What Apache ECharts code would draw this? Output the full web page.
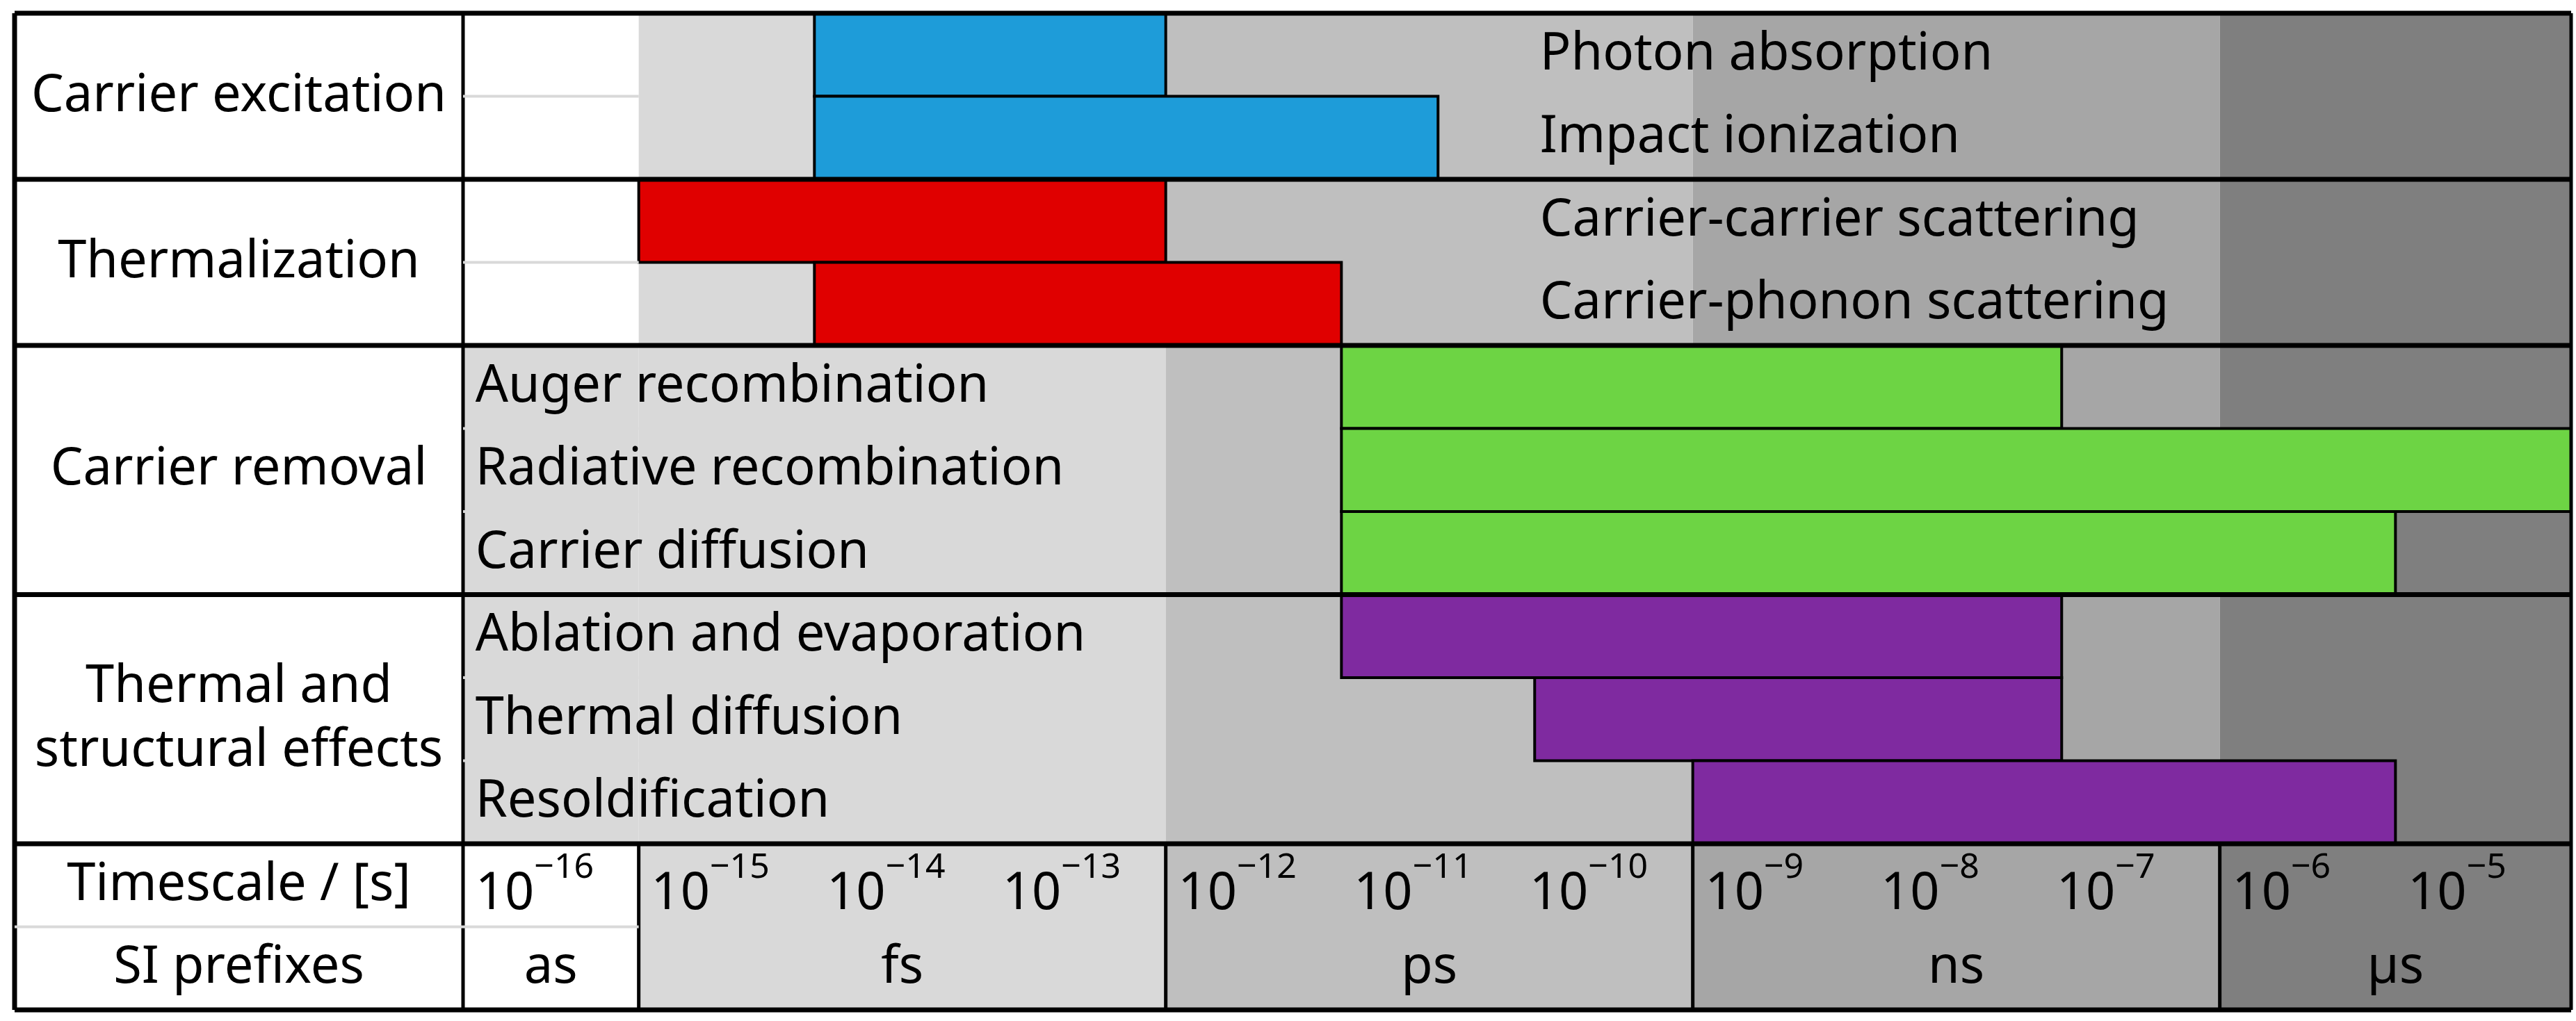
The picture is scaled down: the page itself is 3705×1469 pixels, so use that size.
<!DOCTYPE html>
<html><head><meta charset="utf-8">
<script src="https://cdn.jsdelivr.net/npm/echarts@6/dist/echarts.min.js"></script>
<style>html,body{margin:0;padding:0;background:#fff}#c{width:3705px;height:1469px}</style>
</head><body><div id="c"></div>
<script>
const rowNames=['Photon absorption','Impact ionization','Carrier-carrier scattering','Carrier-phonon scattering','Auger recombination','Radiative recombination','Carrier diffusion','Ablation and evaporation','Thermal diffusion','Resoldification'];
const barStart=[-14,-14,-15,-14,-11,-11,-11,-11,-9.9,-9];
const barEnd=[-12,-10.45,-12,-11,-6.9,-4,-5,-6.9,-6.9,-5];
const barGroup=[0,0,1,1,2,2,2,3,3,3];
const groupNames=['Carrier excitation','Thermalization','Carrier removal','Thermal and\nstructural effects','Timescale / [s]','SI prefixes'];
const groupRows=[[0,2],[2,4],[4,7],[7,10],[10,11],[11,12]];
const groupColors=['#1e9cd9','#e00000','#6dd444','#7f2aa0'];
const tickExps=[-16,-15,-14,-13,-12,-11,-10,-9,-8,-7,-6,-5];
const prefixes=['as','fs','ps','ns','µs'];
const prefixBounds=[-16,-15,-12,-9,-6,-4];
const prefixColors=['#ffffff','#d9d9d9','#bfbfbf','#a6a6a6','#7f7f7f'];

const FONT='"Liberation Sans Narrow","Noto Sans",sans-serif';
const FS=74;
const LEFT_PX=21;
const chart=echarts.init(document.getElementById('c'));

// backgrounds
const bg=[];
prefixes.forEach((p,k)=>{
  if(k===0){
    bg.push({value:[prefixBounds[0],prefixBounds[1],0,4],c:'#ffffff'});
    bg.push({value:[prefixBounds[0],prefixBounds[1],4,10],c:'#d9d9d9'});
    bg.push({value:[prefixBounds[0],prefixBounds[1],10,12],c:'#ffffff'});
  } else bg.push({value:[prefixBounds[k],prefixBounds[k+1],0,12],c:prefixColors[k]});
});
function rectItem(params,api){
  const a=api.coord([api.value(0),api.value(2)]), b=api.coord([api.value(1),api.value(3)]);
  return {x:a[0],y:a[1],w:b[0]-a[0],h:b[1]-a[1]};
}
// lines: [x0,y0,x1,y1,kind] kind: 0 thick black,1 black,2 light ; x0 null => left border
const lines=[];
[0,2,4,7,10,12].forEach(y=>lines.push({value:[null,y,-4,y],k:0}));
lines.push({value:[null,0,null,12],k:0});
lines.push({value:[-16,0,-16,12],k:1});
lines.push({value:[-4,0,-4,12],k:1});
prefixBounds.slice(1,5).forEach(x=>lines.push({value:[x,10,x,12],k:1}));
[1,3,5,6,8,9].forEach(y=>lines.push({value:[-16,y,-15,y],k:2}));
lines.push({value:[null,11,-15,11],k:2});

// text items
const texts=[];
rowNames.forEach((n,i)=>texts.push({value:[i<4?-9.87:-15.93,i+0.5],t:n,align:'left'}));
tickExps.forEach(e=>texts.push({value:[e+0.07,10.5],t:'{b|10}{s|−'+(-e)+'}',align:'left'}));
prefixes.forEach((p,k)=>texts.push({value:[(prefixBounds[k]+prefixBounds[k+1])/2,11.5],t:p,align:'center'}));
groupNames.forEach((g,i)=>texts.push({value:[-16,(groupRows[i][0]+groupRows[i][1])/2],t:g,align:'center',left:true}));

chart.setOption({
  animation:false,
  grid:{left:666,right:7,top:19,bottom:16},
  xAxis:{type:'value',min:-16,max:-4,show:false},
  yAxis:{type:'value',min:0,max:12,inverse:true,show:false},
  series:[
    {type:'custom',data:bg,clip:false,renderItem:(p,api)=>{const r=rectItem(p,api);return {type:'rect',shape:{x:r.x,y:r.y,width:r.w,height:r.h},style:{fill:bg[p.dataIndex].c}};}},
    {type:'custom',z:3,data:rowNames.map((n,i)=>[barStart[i],barEnd[i],i,i+1]),renderItem:(p,api)=>{const r=rectItem(p,api);return {type:'rect',shape:{x:r.x,y:r.y,width:r.w,height:r.h},style:{fill:groupColors[barGroup[p.dataIndex]],stroke:'#000',lineWidth:4}};}},
    {type:'custom',z:4,clip:false,data:lines,renderItem:(p,api)=>{
      const v=lines[p.dataIndex].value,k=lines[p.dataIndex].k;
      const a=api.coord([v[0]===null?-16:v[0],v[1]]),b=api.coord([v[2]===null?-16:v[2],v[3]]);
      if(v[0]===null)a[0]=LEFT_PX; if(v[2]===null)b[0]=LEFT_PX;
      return {type:'line',shape:{x1:a[0],y1:a[1],x2:b[0],y2:b[1]},style:{stroke:k===2?'#d9d9d9':'#000',lineWidth:k===0?7:(k===1?5:4)}};
    }},
    {type:'custom',z:5,clip:false,data:texts,renderItem:(p,api)=>{
      const it=texts[p.dataIndex];const c=api.coord(it.value);
      const x=it.left?(LEFT_PX+c[0])/2:c[0];
      return {type:'text',x:x,y:c[1],style:{text:it.t,fontFamily:FONT,fontSize:FS,fill:'#000',align:it.align,verticalAlign:'middle',lineHeight:92,
        rich:{b:{fontFamily:FONT,fontSize:FS,lineHeight:100,verticalAlign:'bottom'},s:{fontFamily:FONT,fontSize:50,lineHeight:100,verticalAlign:'top'}}}};
    }}
  ]
});
</script></body></html>
